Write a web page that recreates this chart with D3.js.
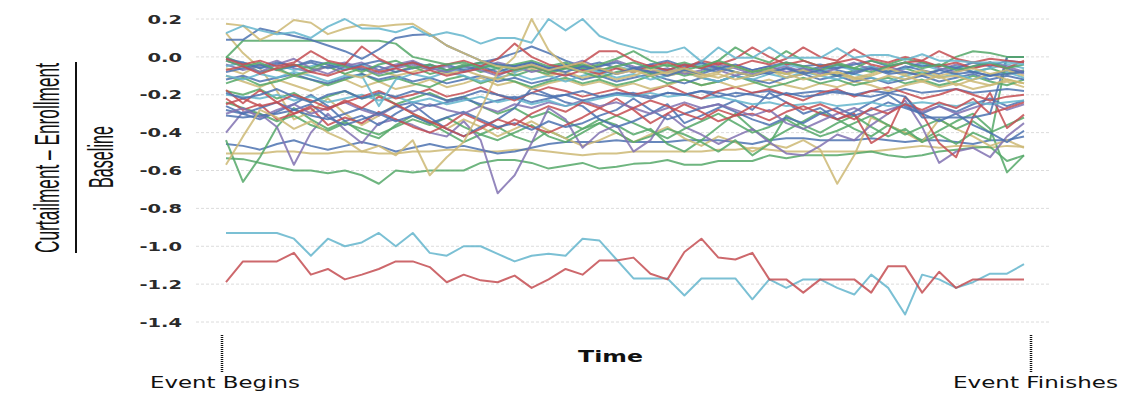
<!DOCTYPE html>
<html>
  <head>
    <meta charset="utf-8" />
    <title>Curtailment per event</title>
    <script src="https://d3js.org/d3.v7.min.js"></script>
    <style>
      body {
        margin: 0;
        background: #fff;
      }
    </style>
  </head>
  <body>

    <svg id="chart"></svg>

    <script>

      // y tick labels
      var yTicks = [0.2, 0.0, -0.2, -0.4, -0.6, -0.8, -1.0, -1.2, -1.4];

      // one value per time step (48 steps between event begin and finish)
      var cyanTop = [0.125,0.164,0.14,0.12,0.13,0.10,0.16,0.20,0.15,0.15,0.13,0.16,
        0.11,0.13,0.11,0.07,0.10,0.10,0.075,0.20,0.14,0.20,0.11,0.075,
        0.05,0.025,0.025,0.05,-0.025,0.05,-0.005,-0.005,0.05,-0.005,-0.005,-0.005,
        0.046,-0.005,0.01,0.01,-0.016,0.014,-0.02,-0.02,-0.03,-0.03,-0.03,-0.04];
      var yellowTop = [0.175,0.165,0.09,0.13,0.195,0.18,0.12,0.15,0.17,0.16,0.17,0.175,
        0.12,0.06,0.02,-0.02,-0.05,-0.06,-0.04,-0.07,-0.05,-0.08,-0.06,-0.09,
        -0.07,-0.1,-0.08,-0.06,-0.09,-0.11,-0.08,-0.1,-0.07,-0.09,-0.12,-0.1,
        -0.08,-0.11,-0.13,-0.1,-0.12,-0.09,-0.11,-0.1,-0.13,-0.15,-0.12,-0.14];
      var blueTop = [0.09,0.09,0.15,0.13,0.11,0.09,0.06,0.03,-0.01,0.04,0.10,0.115,
        0.12,0.06,0.02,-0.02,-0.04,-0.05,-0.03,-0.06,-0.08,-0.05,-0.07,-0.09,
        -0.06,-0.08,-0.1,-0.07,-0.09,-0.06,-0.08,-0.1,-0.08,-0.06,-0.09,-0.07,
        -0.1,-0.08,-0.06,-0.09,-0.08,-0.1,-0.07,-0.09,-0.08,-0.1,-0.09,-0.08];
      var greenFlat = [-0.005,0.085,0.085,0.085,0.085,0.085,0.085,0.085,0.085,0.085,0.07,0.0,
        -0.02,-0.04,-0.03,-0.06,-0.04,-0.07,-0.05,-0.08,-0.06,-0.04,-0.07,-0.05,
        -0.03,-0.06,-0.04,-0.07,-0.05,-0.02,-0.05,-0.08,-0.06,-0.03,-0.05,-0.07,
        -0.04,-0.06,-0.08,-0.05,-0.03,-0.06,-0.04,-0.07,-0.05,-0.03,-0.06,-0.04];
      var redA = [-0.01,-0.04,-0.02,-0.05,-0.03,0.03,-0.02,-0.04,0.055,-0.01,-0.05,-0.03,
        -0.06,-0.04,-0.02,-0.05,-0.01,0.07,0.0,-0.04,-0.06,-0.03,0.03,0.03,
        -0.02,-0.05,-0.03,-0.06,-0.02,-0.04,-0.01,0.05,0.0,-0.04,-0.02,-0.05,
        -0.03,-0.01,-0.04,-0.06,-0.03,-0.02,-0.05,-0.03,-0.06,-0.04,-0.06,-0.02];
      var redB = [-0.07,-0.05,-0.09,-0.06,-0.04,-0.08,-0.1,-0.07,-0.05,-0.08,-0.06,-0.09,
        -0.07,-0.1,-0.08,-0.06,-0.09,-0.07,-0.05,-0.08,-0.1,-0.07,-0.09,-0.06,
        -0.08,-0.05,-0.07,-0.04,-0.06,-0.03,-0.05,-0.02,-0.04,-0.01,0.05,0.0,
        -0.02,0.04,-0.01,-0.03,0.0,-0.02,0.03,-0.01,-0.03,-0.01,-0.02,-0.03];
      var greenB = [-0.02,-0.05,-0.03,-0.07,-0.04,-0.06,-0.03,-0.05,-0.08,-0.04,-0.02,-0.06,
        -0.04,-0.07,-0.05,-0.03,-0.06,-0.04,-0.02,-0.05,-0.03,-0.06,-0.04,-0.01,
        0.03,-0.02,-0.05,-0.03,-0.06,-0.02,0.05,0.0,-0.03,0.03,-0.02,-0.05,
        -0.03,-0.06,-0.02,-0.04,-0.01,-0.03,-0.05,0.0,0.03,0.02,0.0,0.0];
      var blueB = [-0.08,-0.06,-0.04,-0.07,-0.05,-0.03,-0.06,-0.04,-0.07,-0.05,-0.08,-0.06,
        -0.04,-0.07,-0.05,-0.03,-0.01,0.02,0.055,0.02,-0.02,-0.05,-0.03,-0.06,
        -0.08,-0.05,-0.07,-0.04,-0.06,-0.08,-0.05,-0.07,-0.09,-0.06,-0.08,-0.05,
        -0.07,-0.09,-0.06,-0.08,-0.05,-0.07,-0.09,-0.06,-0.08,-0.1,-0.07,-0.08];
      var purpleA = [-0.04,-0.07,-0.05,-0.02,-0.06,-0.08,-0.05,-0.03,-0.06,-0.09,-0.06,-0.04,
        -0.07,-0.05,-0.08,-0.06,-0.03,-0.05,-0.08,-0.06,-0.04,-0.07,-0.05,-0.02,
        -0.05,-0.08,-0.06,-0.09,-0.07,-0.04,-0.06,-0.09,-0.07,-0.05,-0.08,-0.06,
        -0.04,-0.07,-0.05,-0.08,-0.06,-0.03,-0.06,-0.08,-0.05,-0.03,-0.06,-0.09];
      var yellowB = [-0.06,-0.09,-0.04,-0.07,-0.1,-0.08,-0.05,-0.09,-0.11,-0.07,-0.1,-0.08,
        -0.05,-0.09,-0.07,-0.1,-0.12,-0.08,-0.06,-0.1,-0.08,-0.11,-0.09,-0.12,
        -0.1,-0.07,-0.1,-0.08,-0.11,-0.09,-0.12,-0.1,-0.07,-0.11,-0.09,-0.06,
        -0.09,-0.12,-0.1,-0.07,-0.1,-0.13,-0.1,-0.15,-0.12,-0.09,-0.12,-0.14];
      var cyanB = [-0.1,-0.12,-0.09,-0.11,-0.08,-0.1,-0.13,-0.1,-0.1,-0.26,-0.12,-0.09,
        -0.11,-0.08,-0.1,-0.13,-0.11,-0.09,-0.12,-0.1,-0.13,-0.1,-0.08,-0.11,
        -0.09,-0.12,-0.1,-0.08,-0.11,-0.13,-0.1,-0.12,-0.09,-0.11,-0.08,-0.1,
        -0.12,-0.09,-0.11,-0.13,-0.1,-0.08,-0.11,-0.09,-0.12,-0.1,-0.08,-0.11];
      var blueC = [-0.12,-0.1,-0.13,-0.11,-0.09,-0.12,-0.14,-0.11,-0.09,-0.12,-0.1,-0.13,
        -0.11,-0.14,-0.12,-0.1,-0.13,-0.11,-0.14,-0.12,-0.09,-0.12,-0.1,-0.13,
        -0.11,-0.09,-0.12,-0.14,-0.11,-0.13,-0.1,-0.12,-0.14,-0.11,-0.09,-0.12,
        -0.1,-0.13,-0.11,-0.14,-0.12,-0.1,-0.13,-0.11,-0.09,-0.12,-0.1,-0.12];
      var greenC = [-0.14,-0.11,-0.15,-0.13,-0.1,-0.12,-0.15,-0.12,-0.09,-0.13,-0.11,-0.14,
        -0.16,-0.12,-0.1,-0.14,-0.11,-0.13,-0.16,-0.13,-0.11,-0.14,-0.12,-0.15,
        -0.13,-0.1,-0.14,-0.12,-0.15,-0.13,-0.1,-0.13,-0.16,-0.14,-0.11,-0.14,
        -0.12,-0.15,-0.13,-0.11,-0.14,-0.12,-0.15,-0.13,-0.1,-0.13,-0.15,-0.12];
      var redC = [-0.175,-0.245,-0.175,-0.24,-0.3,-0.26,-0.28,-0.23,-0.27,-0.21,-0.25,-0.3,
        -0.34,-0.38,-0.42,-0.38,-0.33,-0.36,-0.3,-0.26,-0.29,-0.24,-0.27,-0.31,
        -0.27,-0.23,-0.26,-0.3,-0.33,-0.28,-0.31,-0.26,-0.29,-0.24,-0.28,-0.25,
        -0.29,-0.33,-0.27,-0.3,-0.25,-0.28,-0.24,-0.27,-0.22,-0.3,-0.27,-0.24];
      var redD = [-0.22,-0.28,-0.25,-0.33,-0.3,-0.27,-0.36,-0.32,-0.35,-0.29,-0.33,-0.37,
        -0.4,-0.36,-0.3,-0.34,-0.38,-0.33,-0.37,-0.4,-0.36,-0.32,-0.27,-0.22,
        -0.28,-0.35,-0.3,-0.25,-0.29,-0.34,-0.31,-0.3,-0.335,-0.29,-0.26,-0.3,
        -0.33,-0.3,-0.455,-0.4,-0.21,-0.3,-0.455,-0.53,-0.315,-0.19,-0.376,-0.305];
      var blueE = [-0.26,-0.3,-0.27,-0.24,-0.28,-0.25,-0.32,-0.36,-0.33,-0.3,-0.34,-0.31,
        -0.35,-0.32,-0.29,-0.33,-0.37,-0.35,-0.385,-0.34,-0.37,-0.35,-0.31,-0.28,
        -0.22,-0.28,-0.33,-0.3,-0.27,-0.25,-0.29,-0.33,-0.36,-0.32,-0.35,-0.3,
        -0.27,-0.31,-0.28,-0.24,-0.27,-0.3,-0.26,-0.29,-0.25,-0.22,-0.26,-0.23];
      var purpleDip = [-0.40,-0.29,-0.30,-0.37,-0.57,-0.40,-0.30,-0.385,-0.455,-0.35,-0.33,-0.36,
        -0.4,-0.42,-0.34,-0.44,-0.72,-0.625,-0.455,-0.27,-0.33,-0.48,-0.4,-0.36,
        -0.5,-0.44,-0.3,-0.37,-0.41,-0.46,-0.42,-0.38,-0.45,-0.51,-0.52,-0.47,
        -0.41,-0.44,-0.36,-0.3,-0.23,-0.37,-0.56,-0.5,-0.48,-0.53,-0.42,-0.35];
      var purpleB = [-0.3,-0.27,-0.32,-0.28,-0.25,-0.3,-0.27,-0.24,-0.28,-0.31,-0.26,-0.29,
        -0.25,-0.28,-0.3,-0.26,-0.29,-0.25,-0.27,-0.24,-0.26,-0.23,-0.26,-0.24,
        -0.27,-0.3,-0.27,-0.24,-0.27,-0.25,-0.28,-0.31,-0.28,-0.35,-0.38,-0.34,
        -0.3,-0.27,-0.31,-0.28,-0.25,-0.29,-0.26,-0.3,-0.27,-0.24,-0.28,-0.25];
      var yellowSpike = [-0.57,-0.42,-0.28,-0.32,-0.38,-0.34,-0.4,-0.44,-0.5,-0.47,-0.52,-0.44,
        -0.625,-0.53,-0.45,-0.28,-0.08,0.0,0.2,0.035,-0.05,-0.03,-0.07,-0.05,
        -0.08,-0.06,-0.09,-0.07,-0.1,-0.08,-0.05,-0.08,-0.06,-0.09,-0.07,-0.1,
        -0.08,-0.11,-0.09,-0.06,-0.09,-0.07,-0.1,-0.08,-0.06,-0.09,-0.07,-0.1];
      var yellowDrop = [0.125,0.02,-0.06,-0.18,-0.33,-0.29,-0.22,-0.3,-0.36,-0.31,-0.25,-0.3,
        -0.34,-0.38,-0.33,-0.37,-0.42,-0.38,-0.34,-0.39,-0.43,-0.47,-0.44,-0.4,
        -0.45,-0.41,-0.37,-0.43,-0.47,-0.42,-0.45,-0.5,-0.46,-0.48,-0.44,-0.49,
        -0.67,-0.52,-0.32,-0.36,-0.4,-0.45,-0.33,-0.38,-0.42,-0.47,-0.44,-0.48];
      var yellowFlat = [-0.51,-0.51,-0.51,-0.5,-0.5,-0.51,-0.51,-0.5,-0.5,-0.51,-0.51,-0.5,
        -0.5,-0.49,-0.49,-0.5,-0.5,-0.49,-0.49,-0.5,-0.51,-0.52,-0.51,-0.51,
        -0.5,-0.5,-0.5,-0.5,-0.5,-0.49,-0.49,-0.48,-0.49,-0.5,-0.5,-0.5,
        -0.5,-0.5,-0.5,-0.49,-0.48,-0.47,-0.48,-0.47,-0.47,-0.48,-0.47,-0.475];
      var greenBottom = [-0.535,-0.54,-0.56,-0.58,-0.6,-0.6,-0.615,-0.6,-0.625,-0.67,-0.6,-0.61,
        -0.6,-0.6,-0.6,-0.56,-0.545,-0.545,-0.56,-0.59,-0.575,-0.56,-0.59,-0.58,
        -0.565,-0.56,-0.545,-0.57,-0.57,-0.55,-0.55,-0.55,-0.52,-0.535,-0.52,-0.52,
        -0.52,-0.51,-0.5,-0.52,-0.53,-0.52,-0.5,-0.49,-0.48,-0.475,-0.55,-0.52];
      var greenDip = [-0.44,-0.66,-0.53,-0.37,-0.27,-0.33,-0.38,-0.34,-0.4,-0.43,-0.36,-0.31,
        -0.35,-0.4,-0.45,-0.41,-0.37,-0.42,-0.45,-0.39,-0.43,-0.38,-0.33,-0.36,
        -0.41,-0.38,-0.46,-0.5,-0.44,-0.37,-0.3,-0.38,-0.44,-0.39,-0.34,-0.29,
        -0.33,-0.38,-0.42,-0.36,-0.4,-0.44,-0.39,-0.34,-0.3,-0.38,-0.61,-0.52];
      var greenRise = [-0.18,-0.2,-0.17,-0.22,-0.19,-0.24,-0.21,-0.18,-0.22,-0.2,-0.25,-0.22,
        -0.19,-0.23,-0.21,-0.26,-0.3,-0.27,-0.32,-0.29,-0.34,-0.38,-0.35,-0.4,
        -0.45,-0.42,-0.38,-0.41,-0.45,-0.5,-0.44,-0.52,-0.46,-0.31,-0.36,-0.4,
        -0.35,-0.31,-0.37,-0.42,-0.38,-0.45,-0.41,-0.46,-0.4,-0.44,0.0,0.0];
      var blueJump = [-0.19,-0.22,-0.2,-0.17,-0.21,-0.24,-0.2,-0.18,-0.22,-0.19,-0.21,-0.18,
        -0.2,-0.23,-0.21,-0.18,-0.2,-0.22,-0.19,-0.21,-0.2,-0.18,-0.21,-0.19,
        -0.2,-0.22,-0.19,-0.2,-0.18,-0.21,-0.19,-0.2,-0.22,-0.19,-0.21,-0.2,
        -0.18,-0.2,-0.21,-0.19,-0.21,-0.32,-0.32,-0.32,-0.32,-0.3,0.0,0.0];
      var blueSwing = [-0.28,-0.3,-0.33,-0.29,-0.25,-0.2,-0.26,-0.34,-0.31,-0.36,-0.3,-0.25,
        -0.32,-0.38,-0.42,-0.37,-0.33,-0.27,-0.165,-0.2,-0.24,-0.26,-0.33,-0.37,
        -0.34,-0.3,-0.25,-0.35,-0.31,-0.27,-0.23,-0.28,-0.19,-0.24,-0.3,-0.27,
        -0.33,-0.29,-0.24,-0.2,-0.26,-0.3,-0.34,-0.3,-0.36,-0.4,-0.45,-0.39];
      var blueLow = [-0.46,-0.47,-0.49,-0.46,-0.44,-0.47,-0.49,-0.47,-0.45,-0.47,-0.5,-0.48,
        -0.46,-0.48,-0.47,-0.49,-0.51,-0.5,-0.48,-0.46,-0.45,-0.45,-0.45,-0.44,
        -0.45,-0.45,-0.45,-0.44,-0.44,-0.44,-0.45,-0.46,-0.44,-0.43,-0.43,-0.44,
        -0.44,-0.44,-0.43,-0.44,-0.45,-0.44,-0.44,-0.45,-0.46,-0.44,-0.44,-0.42];
      var blueDrift = [-0.31,-0.32,-0.31,-0.3,-0.28,-0.31,-0.33,-0.3,-0.27,-0.3,-0.26,-0.24,
        -0.26,-0.24,-0.22,-0.25,-0.23,-0.21,-0.24,-0.22,-0.2,-0.23,-0.21,-0.2,
        -0.19,-0.21,-0.19,-0.2,-0.18,-0.19,-0.21,-0.19,-0.18,-0.2,-0.19,-0.18,
        -0.19,-0.2,-0.18,-0.19,-0.17,-0.19,-0.18,-0.17,-0.19,-0.18,-0.17,-0.18];
      var cyanMid = [-0.2,-0.21,-0.22,-0.2,-0.23,-0.21,-0.24,-0.22,-0.2,-0.23,-0.21,-0.24,
        -0.22,-0.25,-0.23,-0.21,-0.24,-0.22,-0.25,-0.23,-0.26,-0.24,-0.22,-0.2,
        -0.21,-0.19,-0.21,-0.2,-0.22,-0.21,-0.23,-0.25,-0.24,-0.26,-0.25,-0.24,
        -0.26,-0.25,-0.24,-0.26,-0.25,-0.24,-0.25,-0.26,-0.24,-0.25,-0.24,-0.23];
      var redF = [-0.25,-0.22,-0.26,-0.24,-0.2,-0.23,-0.27,-0.24,-0.21,-0.18,-0.22,-0.2,
        -0.17,-0.21,-0.19,-0.16,-0.2,-0.23,-0.19,-0.16,-0.18,-0.21,-0.19,-0.17,
        -0.2,-0.18,-0.15,-0.19,-0.22,-0.18,-0.16,-0.19,-0.17,-0.2,-0.23,-0.19,
        -0.17,-0.21,-0.18,-0.16,-0.19,-0.22,-0.2,-0.17,-0.2,-0.23,-0.21,-0.2];
      var purpleC = [-0.02,-0.05,-0.08,-0.04,-0.01,-0.06,-0.09,-0.05,-0.03,-0.07,-0.04,-0.02,
        -0.06,-0.08,-0.05,-0.07,-0.1,-0.06,-0.04,-0.08,-0.05,-0.02,-0.06,-0.09,
        -0.07,-0.04,-0.08,-0.06,-0.03,-0.07,-0.1,-0.07,-0.05,-0.08,-0.06,-0.09,
        -0.06,-0.03,-0.07,-0.05,-0.08,-0.1,-0.07,-0.04,-0.06,-0.03,-0.05,-0.08];
      var blueD = [-0.01,-0.03,-0.06,-0.03,-0.05,-0.02,-0.04,-0.07,-0.04,-0.02,-0.05,-0.03,
        -0.06,-0.04,-0.07,-0.05,-0.08,-0.05,-0.03,-0.06,-0.04,-0.07,-0.05,-0.03,
        -0.06,-0.04,-0.02,-0.05,-0.03,-0.06,-0.04,-0.07,-0.05,-0.03,-0.05,-0.04,
        -0.06,-0.04,-0.02,-0.05,-0.03,-0.05,-0.04,-0.06,-0.03,-0.05,-0.02,-0.03];
      var greenG = [-0.24,-0.27,-0.3,-0.34,-0.31,-0.36,-0.39,-0.35,-0.38,-0.41,-0.37,-0.33,
        -0.36,-0.32,-0.37,-0.41,-0.44,-0.4,-0.36,-0.42,-0.45,-0.4,-0.35,-0.31,
        -0.35,-0.39,-0.43,-0.38,-0.34,-0.3,-0.35,-0.4,-0.37,-0.33,-0.38,-0.42,
        -0.39,-0.35,-0.31,-0.36,-0.41,-0.37,-0.33,-0.38,-0.34,-0.4,-0.36,-0.32];
      var cyanC = [-0.05,-0.03,-0.06,-0.04,-0.07,-0.05,-0.03,-0.06,-0.04,-0.07,-0.05,-0.03,
        -0.05,-0.08,-0.06,-0.04,-0.06,-0.08,-0.05,-0.07,-0.04,-0.06,-0.08,-0.05,
        -0.07,-0.05,-0.08,-0.06,-0.04,-0.07,-0.05,-0.08,-0.06,-0.04,-0.06,-0.08,
        -0.05,-0.07,-0.05,-0.08,-0.06,-0.04,-0.07,-0.05,-0.08,-0.06,-0.04,-0.06];
      var greenD = [0.0,-0.04,-0.08,-0.06,-0.1,-0.07,-0.05,-0.09,-0.06,-0.1,-0.08,-0.05,
        -0.09,-0.07,-0.04,-0.08,-0.06,-0.1,-0.07,-0.09,-0.06,-0.08,-0.11,-0.08,
        -0.06,-0.09,-0.07,-0.1,-0.08,-0.05,-0.08,-0.1,-0.07,-0.09,-0.06,-0.08,
        -0.1,-0.07,-0.05,-0.08,-0.06,-0.09,-0.07,-0.05,-0.08,-0.06,-0.09,-0.07];
      var yellowC = [-0.1,-0.13,-0.16,-0.12,-0.15,-0.18,-0.14,-0.12,-0.16,-0.13,-0.17,-0.15,
        -0.12,-0.16,-0.14,-0.11,-0.15,-0.13,-0.17,-0.14,-0.12,-0.15,-0.13,-0.16,
        -0.14,-0.17,-0.15,-0.12,-0.15,-0.13,-0.16,-0.14,-0.12,-0.15,-0.17,-0.14,
        -0.16,-0.13,-0.15,-0.18,-0.15,-0.13,-0.16,-0.14,-0.17,-0.15,-0.13,-0.16];
      var cyanLow = [-0.93,-0.93,-0.93,-0.93,-0.96,-1.05,-0.96,-1.0,-0.98,-0.93,-1.0,-0.93,
        -1.035,-1.05,-1.0,-1.0,-1.04,-1.08,-1.05,-1.04,-1.05,-0.96,-0.97,-1.07,
        -1.17,-1.17,-1.17,-1.26,-1.17,-1.17,-1.17,-1.28,-1.175,-1.22,-1.175,-1.175,
        -1.22,-1.255,-1.15,-1.22,-1.36,-1.15,-1.175,-1.22,-1.19,-1.145,-1.145,-1.095];
      var redLow = [-1.19,-1.08,-1.08,-1.08,-1.035,-1.15,-1.12,-1.175,-1.15,-1.12,-1.08,-1.08,
        -1.11,-1.19,-1.15,-1.18,-1.19,-1.155,-1.22,-1.175,-1.12,-1.15,-1.075,-1.075,
        -1.06,-1.145,-1.175,-1.03,-0.96,-1.06,-1.07,-1.035,-1.175,-1.175,-1.245,-1.175,
        -1.175,-1.175,-1.245,-1.105,-1.105,-1.245,-1.135,-1.22,-1.175,-1.175,-1.175,-1.175];

      // which colour each series gets
      var series = [
        [yellowFlat, "yellow"], [greenBottom, "green"], [blueLow, "blue"],
        [greenDip, "green"], [yellowDrop, "yellow"], [greenRise, "green"],
        [purpleDip, "purple"], [greenG, "green"], [blueSwing, "blue"],
        [redD, "red"], [blueE, "blue"], [purpleB, "purple"],
        [blueDrift, "blue"], [cyanMid, "cyan"], [redC, "red"],
        [redF, "red"], [blueJump, "blue"], [yellowC, "yellow"],
        [greenC, "green"], [blueC, "blue"], [cyanB, "cyan"],
        [yellowB, "yellow"], [greenD, "green"], [purpleA, "purple"],
        [cyanC, "cyan"], [blueB, "blue"], [purpleC, "purple"],
        [blueD, "blue"], [greenB, "green"], [redB, "red"],
        [redA, "red"], [yellowSpike, "yellow"], [greenFlat, "green"],
        [blueTop, "blue"], [yellowTop, "yellow"], [cyanTop, "cyan"],
        [cyanLow, "cyan"], [redLow, "red"]
      ];

      var palette = {
        blue: "#4C72B0",
        green: "#55A868",
        red: "#C44E52",
        purple: "#8172B2",
        yellow: "#CCB974",
        cyan: "#64B5CD"
      };

      var width = 1136;
      var height = 393;
      var nSteps = cyanLow.length;

      var svg = d3.select("#chart")
        .attr("width", width)
        .attr("height", height);

      var x = d3.scaleLinear()
        .domain([0, nSteps - 1])
        .range([226, 1024]);

      var y = d3.scaleLinear()
        .domain([-1.4, 0.2])
        .range([322, 19]);

      // dashed gridlines
      svg.append("g")
        .selectAll("line")
        .data(yTicks)
        .enter().append("line")
        .attr("x1", 196)
        .attr("x2", 1049)
        .attr("y1", function(d) { return y(d); })
        .attr("y2", function(d) { return y(d); })
        .attr("stroke", "#dcdcdc")
        .attr("stroke-width", 1)
        .attr("stroke-dasharray", "3,2");

      // y axis, labels only
      var yAxis = svg.append("g")
        .attr("transform", "translate(182,0)")
        .call(d3.axisLeft(y)
          .tickValues(yTicks)
          .tickSize(0)
          .tickPadding(0)
          .tickFormat(function(d) { return d.toFixed(1); }));

      yAxis.select(".domain").remove();
      yAxis.selectAll("text")
        .attr("x", 0)
        .attr("font-family", "DejaVu Sans")
        .attr("font-weight", "bold")
        .attr("font-size", 13)
        .attr("fill", "#2a2a2a")
        .attr("transform", "scale(1.5,1)");

      var line = d3.line()
        .x(function(d, i) { return x(i); })
        .y(function(d) { return y(d); });

      svg.append("g")
        .selectAll("path")
        .data(series)
        .enter().append("path")
        .attr("d", function(d) { return line(d[0]); })
        .attr("fill", "none")
        .attr("stroke", function(d) { return palette[d[1]]; })
        .attr("stroke-opacity", 0.85)
        .attr("stroke-width", 2)
        .attr("stroke-linejoin", "round");

      // event markers
      svg.selectAll(".marker")
        .data([222, 1031])
        .enter().append("line")
        .attr("class", "marker")
        .attr("x1", function(d) { return d; })
        .attr("x2", function(d) { return d; })
        .attr("y1", 335)
        .attr("y2", 372)
        .attr("stroke", "#111")
        .attr("stroke-width", 2.5)
        .attr("stroke-dasharray", "1,1");

      // squeeze or stretch a text to a wanted length
      function fitText(sel, len, place) {
        var natural = sel.node().getComputedTextLength();
        sel.attr("transform", place + " scale(" + (len / natural) + ",1)");
      }

      fitText(svg.append("text")
        .attr("font-family", "DejaVu Sans")
        .attr("font-size", 15)
        .attr("fill", "#111")
        .text("Event Begins"), 150, "translate(150,388)");

      fitText(svg.append("text")
        .attr("font-family", "DejaVu Sans")
        .attr("font-size", 15)
        .attr("fill", "#111")
        .text("Event Finishes"), 165, "translate(953,388)");

      fitText(svg.append("text")
        .attr("font-family", "DejaVu Sans")
        .attr("font-weight", "bold")
        .attr("font-size", 15)
        .attr("fill", "#111")
        .text("Time"), 65, "translate(578,362)");

      // y label drawn as a fraction
      var yLabel = svg.append("g")
        .attr("font-family", "Liberation Sans Narrow, Liberation Sans, sans-serif")
        .attr("fill", "#111");

      fitText(yLabel.append("text")
        .attr("text-anchor", "middle")
        .attr("font-size", 35)
        .text("Curtailment – Enrollment"), 190, "translate(59,158) rotate(-90)");

      yLabel.append("line")
        .attr("x1", 76)
        .attr("x2", 76)
        .attr("y1", 62)
        .attr("y2", 253)
        .attr("stroke", "#111")
        .attr("stroke-width", 2);

      fitText(yLabel.append("text")
        .attr("text-anchor", "middle")
        .attr("font-size", 35)
        .text("Baseline"), 62, "translate(113,157) rotate(-90)");

    </script>
  </body>
</html>
